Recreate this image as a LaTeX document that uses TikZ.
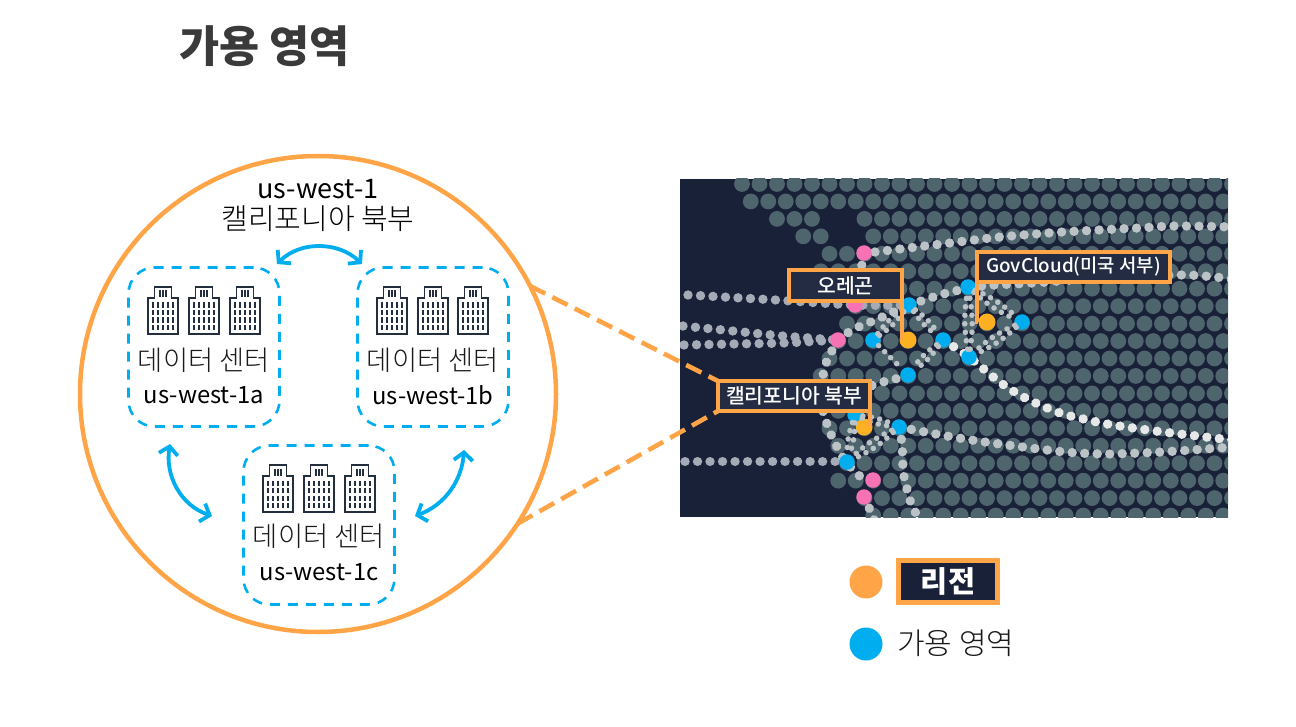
\documentclass[tikz,border=0pt]{standalone}
\usepackage{fontspec}
\usepackage{xcolor}
\usetikzlibrary{arrows.meta}
\setmainfont{Noto Sans CJK KR}
\newfontfamily\lightfont{Noto Sans CJK KR Light}
\newfontfamily\mediumfont{Noto Sans CJK KR Medium}
\definecolor{regionline}{HTML}{FFA447}
\definecolor{regiondot}{HTML}{FDB022}
\definecolor{azblue}{HTML}{00AEEF}
\definecolor{mapfill}{HTML}{192138}
\definecolor{labelfill}{HTML}{232C42}
\definecolor{landdot}{HTML}{4F656D}
\definecolor{edgepink}{HTML}{F772B5}
\definecolor{trailbright}{HTML}{E6E8E8}
\definecolor{trailmid}{HTML}{BCC3C7}
\definecolor{traildim}{HTML}{A5ABB6}
\definecolor{iconcolor}{HTML}{232F3E}
\definecolor{textcolor}{HTML}{1A1A1A}
\definecolor{titlecolor}{HTML}{3A3A3A}
\tikzset{
  >=Latex,
  region ring/.style={
    circle,
    draw=regionline,
    line width=4.5pt,
    minimum size=476pt,
    inner sep=0pt,
    outer sep=0pt
  },
  dc box/.style={
    draw=azblue,
    line width=2.6pt,
    dash pattern=on 10pt off 8pt,
    rounded corners=26pt,
    minimum width=151pt,
    minimum height=159pt,
    inner sep=0pt
  },
  az arrow/.style={
    draw=azblue,
    line width=3.8pt,
    {Straight Barb[length=8pt,width=19pt]}-{Straight Barb[length=8pt,width=19pt]}
  },
  zoom line/.style={
    draw=regionline,
    line width=4.6pt,
    dash pattern=on 17pt off 8pt
  },
  map label/.style={
    draw=regionline,
    fill=labelfill,
    line width=4pt,
    outer sep=0pt,
    inner sep=0pt,
    text=white,
    font=\mediumfont\fontsize{20.4}{20.4}\selectfont
  },
  leader/.style={
    draw=regionline,
    line width=4pt
  },
  map dot/.style={
    circle,
    minimum size=15.5pt,
    inner sep=0pt
  },
  dc text/.style={
    text=textcolor,
    font=\lightfont\fontsize{27.4}{27.4}\selectfont
  },
  az text/.style={
    text=black,
    font=\fontsize{23.8}{23.8}\selectfont
  },
  trail/.style={
    draw=#1,
    line width=9.4pt,
    line cap=round,
    dash pattern=on 0.01pt off 12.5pt
  },
  link/.style={
    draw=trailmid,
    line width=5.6pt,
    line cap=round,
    dash pattern=on 0.01pt off 8.5pt
  }
}
\newcommand{\dcicons}[2]{%
  \foreach \cx in {#1}{
    \begin{scope}[shift={(\cx,#2)}]
      \draw[iconcolor,line width=1.3pt,fill=white]
        (-15,47) -- (-15,11) -- (-8.5,11) -- (-8.5,0) -- (8.5,0) -- (8.5,11) -- (15,11) -- (15,47) -- cycle;
      \foreach \wx in {-10,-5,0,5,10}{
        \foreach \wy in {15.5,23,30.5,38}{
          \fill[iconcolor] (\wx-1.3,\wy) rectangle (\wx+1.3,\wy+5.2);
        }
      }
      \foreach \wx in {-3,0,3}{
        \fill[iconcolor] (\wx-0.8,3.5) rectangle (\wx+0.8,10.5);
      }
    \end{scope}
  }
}
\begin{document}
\begin{tikzpicture}[x=1pt,y=-1pt]
  \useasboundingbox (0,0) rectangle (1296,727);

  \node[font=\fontsize{43.6}{43.6}\selectfont\bfseries,text=titlecolor] (title) at (264.5,46) {가용 영역};

  \node[region ring] (region) at (318,394) {};
  \node[text=black,font=\fontsize{27}{27}\selectfont] (region-id) at (318,189) {us-west-1};
  \node[text=black,font=\lightfont\fontsize{29}{29}\selectfont] (region-name) at (318,219) {캘리포니아 북부};

  \node[dc box] (DC-a) at (204,347) {};
  \node[dc box] (DC-b) at (433,347) {};
  \node[dc box] (DC-c) at (319,525) {};
  \dcicons{163,204,245}{287}
  \dcicons{392,433,473}{287}
  \dcicons{278,319,360}{465}
  \node[dc text] (DC-a-name) at (204,360) {데이터 센터};
  \node[dc text] (DC-b-name) at (433,360) {데이터 센터};
  \node[dc text] (DC-c-name) at (319,536) {데이터 센터};
  \node[az text] (DC-a-id) at (204,395) {us-west-1a};
  \node[az text] (DC-b-id) at (433,395) {us-west-1b};
  \node[az text] (DC-c-id) at (319,572) {us-west-1c};

  \coordinate (A-ab-1) at (277,264);
  \coordinate (A-ab-2) at (362,264);
  \coordinate (A-ac-1) at (170,444);
  \coordinate (A-ac-2) at (212,516);
  \coordinate (A-bc-1) at (464,450);
  \coordinate (A-bc-2) at (415,516);
  \draw[az arrow] (A-ab-1) .. controls (300,241) and (338,241) .. (A-ab-2);
  \draw[az arrow] (A-ac-1) .. controls (165,475) and (180,505) .. (A-ac-2);
  \draw[az arrow] (A-bc-1) .. controls (462,480) and (445,505) .. (A-bc-2);

  \fill[mapfill] (680,179) rectangle (1228,517);
  \begin{scope}
    \clip (680,179) rectangle (1228,517);
    \foreach \k/\a in {0/0,1/0,2/7,3/7,4/5,5/4,6/5,7/6,8/6,9/5,10/5,11/4,12/5,13/5,14/5,15/5,16/6,17/5,18/7,19/7}{
      \pgfmathsetmacro{\rowx}{742+8.75*mod(\k,2)}
      \pgfmathsetmacro{\rowy}{184+17.45*\k}
      \foreach \n in {\a,...,28}{
        \fill[landdot] (\rowx+17.5*\n,\rowy) circle (7.9pt);
      }
    }
    \foreach \k/\n in {2/2,2/3,2/4,3/3,3/4}{
      \pgfmathsetmacro{\rowx}{742+8.75*mod(\k,2)}
      \pgfmathsetmacro{\rowy}{184+17.45*\k}
      \fill[landdot] (\rowx+17.5*\n,\rowy) circle (7.9pt);
    }

    \draw[trail=trailmid] plot[smooth] coordinates {(875,252) (900,249) (950,243) (1000,237) (1063,232) (1138,228) (1177,226) (1232,227)};
    \draw[trail=traildim] plot[smooth] coordinates {(688,295) (776,300) (855,305) (909,305)};
    \draw[trail=traildim] plot[smooth] coordinates {(683,326) (733,331) (783,336) (838,340)};
    \draw[trail=traildim] plot[smooth] coordinates {(684,345) (733,344) (783,343) (838,340)};
    \draw[trail=traildim] plot coordinates {(685,461.5) (846,461.5)};
    \draw[trail=trailbright] plot[smooth] coordinates {(943,340) (969,357) (997,380) (1018,394) (1040,405) (1063,414) (1088,420) (1113,425) (1163,432) (1232,440)};
    \draw[trail=trailmid] plot[smooth] coordinates {(909,305) (947,293) (983,286) (1033,283) (1100,278) (1185,275) (1232,279)};
    \draw[trail=trailmid] plot[smooth] coordinates {(899,427) (941,435) (978,441) (1015,446) (1065,452) (1103,454) (1140,453) (1178,451) (1232,447)};
    \draw[trail=trailmid] plot[smooth] coordinates {(899,427) (902,444) (903,468) (905,481) (912,506) (922,522)};
    \draw[trail=trailmid] plot[smooth] coordinates {(838,340) (825,366) (821,400) (828,427) (838,449) (846,462) (861,477) (873,480)};
    \draw[trail=trailmid] plot[smooth] coordinates {(908,375) (892,380) (879,383) (855,392)};
    \draw[trail=trailmid] plot[smooth] coordinates {(838,340) (852,330) (863,325) (880,318) (909,305)};
    \draw[trail=trailmid] plot[smooth] coordinates {(864,253) (862,264) (856,305)};
    \draw[trail=trailmid] plot[smooth] coordinates {(864,497) (871,512) (875,522)};
  \end{scope}

  \node[map dot,fill=edgepink] (P-1) at (864,253) {};
  \node[map dot,fill=edgepink] (P-2) at (855,305) {};
  \node[map dot,fill=edgepink] (P-3) at (838,340) {};
  \node[map dot,fill=edgepink] (P-4) at (873,480) {};
  \node[map dot,fill=edgepink] (P-5) at (864,497) {};

  \node[map dot,fill=azblue] (OR-t) at (909,305) {};
  \node[map dot,fill=azblue] (OR-r) at (943,340) {};
  \node[map dot,fill=azblue] (OR-b) at (908,375) {};
  \node[map dot,fill=azblue] (OR-l) at (873,340) {};
  \node[map dot,fill=regiondot,minimum size=17pt] (OR-c) at (908,340) {};

  \node[map dot,fill=azblue] (GC-t) at (968,287) {};
  \node[map dot,fill=azblue] (GC-r) at (1022,322) {};
  \node[map dot,fill=azblue] (GC-b) at (969,357) {};
  \node[map dot,fill=regiondot,minimum size=17pt] (GC-c) at (987,322) {};

  \node[map dot,fill=azblue] (NC-t) at (855,415) {};
  \node[map dot,fill=azblue] (NC-r) at (899,427) {};
  \node[map dot,fill=azblue] (NC-b) at (847,462) {};
  \node[map dot,fill=regiondot,minimum size=17pt] (NC-c) at (864,427) {};

  \foreach \u/\v in {OR-t/OR-r,OR-r/OR-b,OR-l/OR-t,GC-t/GC-r,GC-r/GC-b,GC-b/GC-t,NC-t/NC-b,NC-r/NC-b,NC-t/NC-r}{
    \draw[link] (\u) to[bend left=9] (\v);
    \draw[link] (\u) to[bend right=9] (\v);
  }
  \draw[link] (OR-l) -- (OR-b);

  \node[map label,minimum width=113pt,minimum height=31pt] (L-or) at (845.5,285.5) {오레곤};
  \node[map label,minimum width=193pt,minimum height=30pt,font=\mediumfont\fontsize{18.8}{18.8}\selectfont] (L-gc) at (1073.5,267) {GovCloud(미국 서부)};
  \node[map label,minimum width=152pt,minimum height=30pt] (L-nc) at (794,396) {캘리포니아 북부};

  \draw[leader] (L-or.south east) -- (L-or.south east |- OR-c);
  \draw[leader] (L-gc.south west) -- (L-gc.south west |- GC-c) -- (GC-c);
  \draw[leader] (L-nc.south east) -- (L-nc.south east |- NC-c);
  \draw[zoom line] (region.27.6) -- (L-nc.north west);
  \draw[zoom line] (region.-33) -- (L-nc.south west);

  \node[circle,fill=regionline,minimum size=33pt,inner sep=0pt] (key-region) at (866,582) {};
  \node[draw=regionline,fill=mapfill,line width=5pt,minimum width=99pt,minimum height=42pt,inner sep=0pt,outer sep=0pt,text=white,font=\fontsize{29.5}{29.5}\selectfont\bfseries] (key-region-text) at (948,581.5) {리전};
  \node[circle,fill=azblue,minimum size=33pt,inner sep=0pt] (key-az) at (866,644) {};
  \node[anchor=west,inner sep=0pt,text=textcolor,font=\lightfont\fontsize{30}{30}\selectfont] (key-az-text) at (897,643) {가용 영역};
\end{tikzpicture}
\end{document}
